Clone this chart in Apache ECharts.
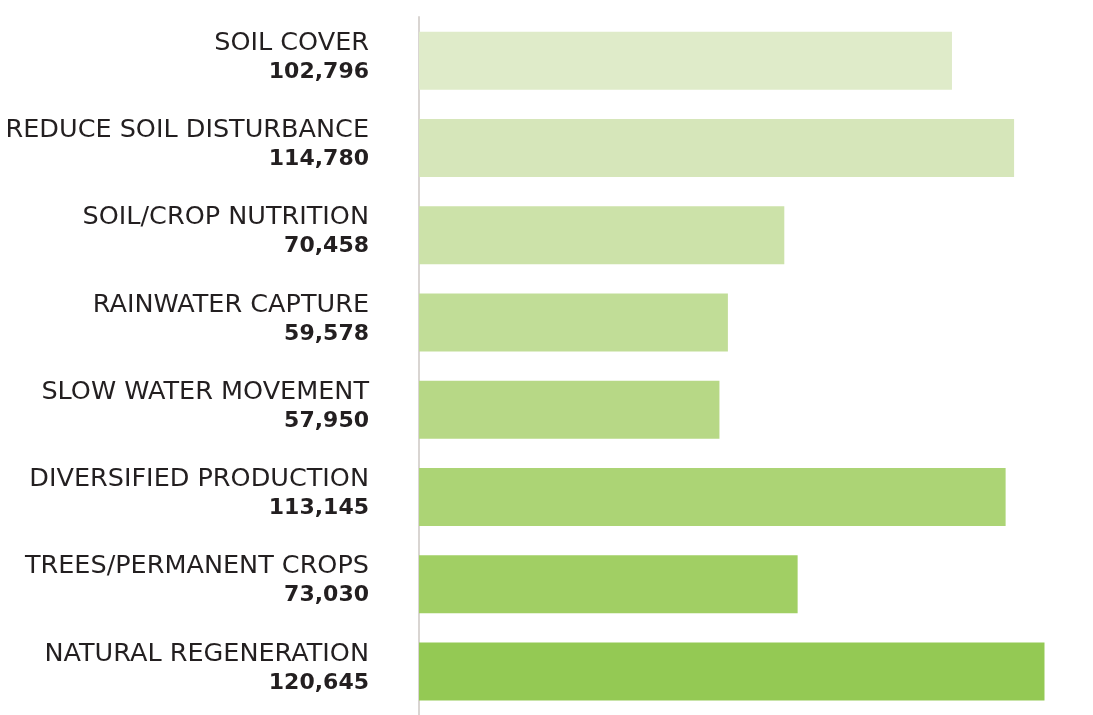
<!DOCTYPE html>
<html>
<head>
<meta charset="utf-8">
<script src="https://cdn.jsdelivr.net/npm/echarts@6/dist/echarts.min.js"></script>
<style>
  html, body { margin: 0; padding: 0; background: #fff; }
  #main { width: 1093px; height: 715px; }
</style>
</head>
<body>
<div id="main"></div>
<script>
// practices, top to bottom
var categories = [
	'SOIL COVER',
	'REDUCE SOIL DISTURBANCE',
	'SOIL/CROP NUTRITION',
	'RAINWATER CAPTURE',
	'SLOW WATER MOVEMENT',
	'DIVERSIFIED PRODUCTION',
	'TREES/PERMANENT CROPS',
	'NATURAL REGENERATION'
];
var values = [102796, 114780, 70458, 59578, 57950, 113145, 73030, 120645];
var barColors = ['#dfebc9', '#d6e6ba', '#cce2a9', '#c1dd97', '#b7d886', '#acd475', '#a1cf64', '#94c954'];

function fmt(v) {
	return v.toString().replace(/\B(?=(\d{3})+(?!\d))/g, ',');
}

var myChart = echarts.init(document.getElementById('main'));
var option = {
	animation: false,
	grid: {
		left: 419,
		right: 0,
		top: 17,
		height: 703,
		containLabel: false
	},
	xAxis: {
		type: 'value',
		min: 0,
		max: 130000,
		show: false
	},
	yAxis: {
		type: 'category',
		inverse: true,
		data: categories,
		axisLine: { show: true, lineStyle: { color: '#d9d5d2', width: 2 } },
		axisTick: { show: false },
		axisLabel: {
			margin: 50,
			align: 'right',
			padding: [0, 0, 6, 0],
			formatter: function (name, idx) {
				return '{n|' + name + '}\n{v|' + fmt(values[idx]) + '}';
			},
			rich: {
				n: { fontFamily: 'DejaVu Sans', fontSize: 25.5, color: '#231f20', lineHeight: 29 },
				v: { fontFamily: 'DejaVu Sans', fontSize: 22, fontWeight: 'bold', color: '#231f20', lineHeight: 29 }
			}
		}
	},
	series: [{
		type: 'bar',
		barWidth: 58,
		data: values.map(function (v, i) {
			return { value: v, itemStyle: { color: barColors[i] } };
		})
	}]
};
myChart.setOption(option);
</script>
</body>
</html>
